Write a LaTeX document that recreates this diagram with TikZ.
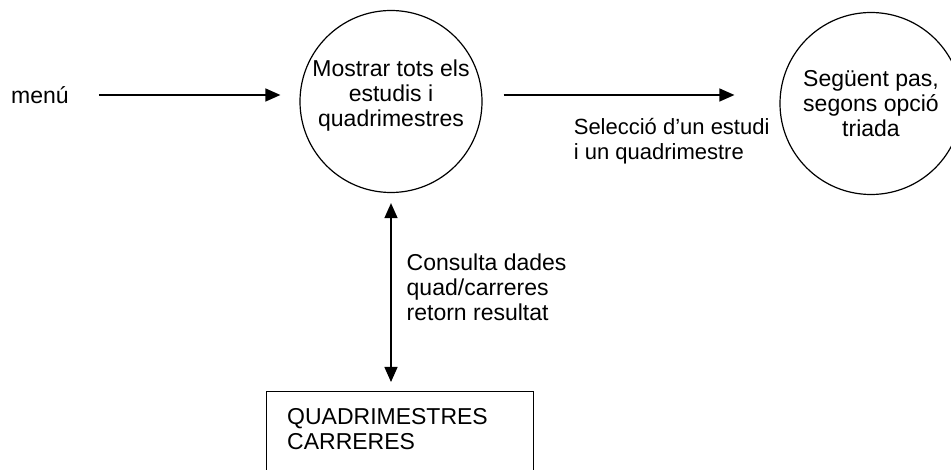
\documentclass[tikz,border=0pt]{standalone}
\usepackage{fontspec}
\setmainfont{Liberation Sans}
\usetikzlibrary{positioning,arrows.meta}

\begin{document}
\begin{tikzpicture}[x=1pt,y=-1pt,
  font=\fontsize{23}{25}\selectfont,
  >={Triangle[length=15pt,width=13pt]},
  proces/.style={draw,circle,line width=1.2pt,minimum size=182pt,inner sep=0pt,align=center},
  magatzem/.style={draw,line width=1.2pt,minimum width=267pt,minimum height=120pt},
  flux/.style={line width=1.4pt,->},
  etiqueta/.style={inner sep=0pt,align=left}]
\clip (0,0) rectangle (951,470);
\node[anchor=west,inner sep=0pt] (menu) at (11,95) {menú};
\node[proces] (mostrar) at (391,101.5) {};
\node[etiqueta,align=center] (mostrartxt) at ([yshift=6pt]mostrar.center) {Mostrar tots els\\estudis i\\quadrimestres};
\node[proces] (seguent) at (871,103.5) {Següent pas,\\segons opció\\triada};
\node[magatzem,anchor=north west] (dades) at (266,391) {};
\node[etiqueta,below right=17pt and 21pt of dades.north west] (dadestxt) {QUADRIMESTRES\\CARRERES};
% fluxos
\draw[flux,shorten <=30pt,shorten >=19pt] (menu.east) -- (menu.east -| mostrar.west);
\draw[flux,shorten <=21pt,shorten >=45pt] (mostrar.east |- menu.east) -- (seguent.west |- menu.east)
  node[etiqueta,pos=0.305,anchor=north west,yshift=-23pt,font=\fontsize{22}{25}\selectfont] (seleccio) {Selecció d’un estudi\\i un quadrimestre};
\draw[flux,<->,shorten <=10pt,shorten >=9pt] (mostrar.south) -- (mostrar.south |- dades.north)
  node[etiqueta,pos=0.475,right=15pt] (consulta) {Consulta dades\\quad/carreres\\retorn resultat};
\end{tikzpicture}
\end{document}
